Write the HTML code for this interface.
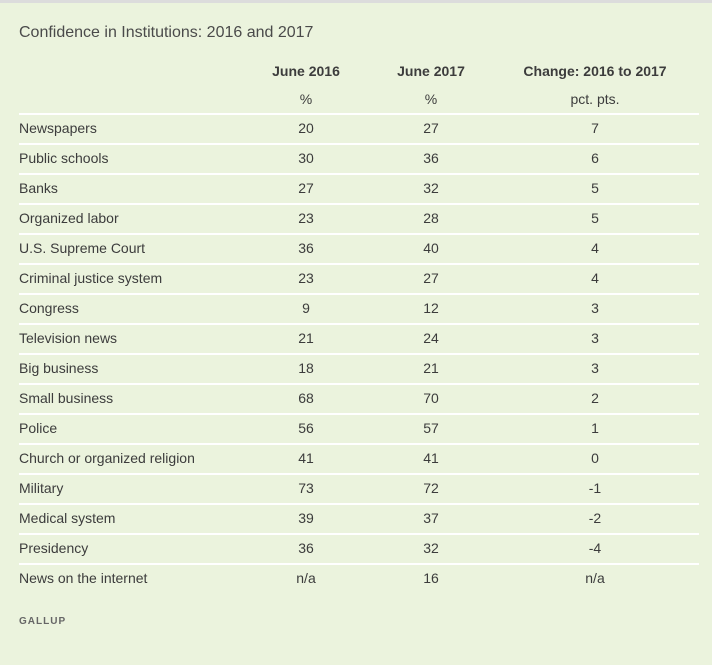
<!DOCTYPE html>
<html><head><meta charset="utf-8"><style>
body{margin:0;width:712px;height:665px;background:#ebf3dd;font-family:"Liberation Sans",sans-serif;color:#3c3c3c;position:relative;overflow:hidden}
.top{position:absolute;left:0;top:0;width:712px;height:3px;background:#dcdcdc}
.t{position:absolute;white-space:nowrap;font-size:14px;line-height:16px}
.c{transform:translateX(-50%)}
.line{position:absolute;left:19px;width:680px;height:2px;background:#fff}
</style></head><body>
<div class="top"></div>
<div class="t" style="left:19px;top:23px;font-size:16px;line-height:20px;color:#4a4a4a">Confidence in Institutions: 2016 and 2017</div>
<div class="t c" style="left:306px;top:63px;font-weight:bold">June 2016</div>
<div class="t c" style="left:431px;top:63px;font-weight:bold">June 2017</div>
<div class="t c" style="left:595px;top:63px;font-weight:bold">Change: 2016 to 2017</div>
<div class="t c" style="left:306px;top:91px">%</div>
<div class="t c" style="left:431px;top:91px">%</div>
<div class="t c" style="left:595px;top:91px">pct. pts.</div>
<div id="rows"></div>
<div class="t" style="left:19px;top:614px;font-size:10px;font-weight:bold;letter-spacing:1px;color:#666">GALLUP</div>
<script>
const institutions=["Newspapers","Public schools","Banks","Organized labor","U.S. Supreme Court","Criminal justice system","Congress","Television news","Big business","Small business","Police","Church or organized religion","Military","Medical system","Presidency","News on the internet"];
const v2016=["20","30","27","23","36","23","9","21","18","68","56","41","73","39","36","n/a"];
const v2017=["27","36","32","28","40","27","12","24","21","70","57","41","72","37","32","16"];
const change=["7","6","5","5","4","4","3","3","3","2","1","0","-1","-2","-4","n/a"];
const root=document.getElementById('rows');
institutions.forEach((name,i)=>{
  const y=113+i*30;
  const ln=document.createElement('div');ln.className='line';ln.style.top=y+'px';
  
  
  root.appendChild(ln);
  const cells=[[name,19,false],[v2016[i],306,true],[v2017[i],431,true],[change[i],595,true]];
  const names=['institution-label','value-2016','value-2017','value-change'];
  cells.forEach((c,j)=>{
    const d=document.createElement('div');d.className='t'+(c[2]?' c':'');
    d.style.left=c[1]+'px';d.style.top=(y+7)+'px';d.textContent=c[0];
    
    
    root.appendChild(d);
  });
});
</script>
</body></html>
